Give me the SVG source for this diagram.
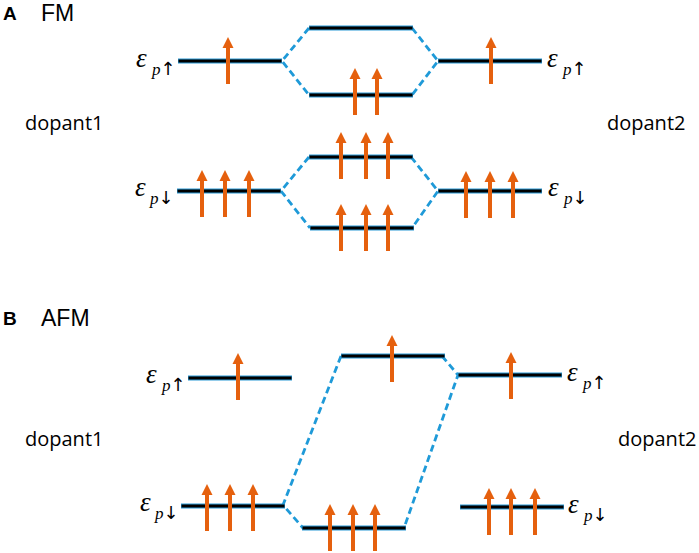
<svg xmlns="http://www.w3.org/2000/svg" xmlns:xlink="http://www.w3.org/1999/xlink" width="699" height="553" viewBox="0 0 699 553">
<style>
.lvb{stroke:#2a9ad6;stroke-width:5;fill:none}
.lvk{stroke:#000;stroke-width:3;fill:none}
.dash{stroke:#1f9ad8;stroke-width:2.8;fill:none;stroke-dasharray:7,4}
.t{font-family:"Open Sans","Liberation Sans",sans-serif;fill:#000}
.h{font-family:"Liberation Sans","Open Sans",sans-serif;fill:#000}
.eps{font-family:"Liberation Serif",serif;font-style:italic;font-size:27px;fill:#000}
.sub{font-family:"Liberation Serif",serif;font-style:italic;font-size:17px;fill:#000}
.ag{font-family:"DejaVu Sans",sans-serif;font-style:normal;font-size:18px}
.ar{fill:#e5600e}
</style>
<defs>
<g id="arr"><polygon class="ar" points="-5.5,11 5.5,11 0,0"/><rect class="ar" x="-2" y="10" width="4" height="37"/></g>
<g id="lv"><line class="lvb" x1="0" y1="0" x2="104" y2="0"/><line class="lvk" x1="0.5" y1="0" x2="103.5" y2="0"/></g>
</defs>
<g id="labels">
<text class="h" x="3" y="20" font-size="19" font-weight="bold">A</text>
<text class="h" x="41" y="21" font-size="23">FM</text>
<text class="h" x="3" y="325" font-size="19" font-weight="bold">B</text>
<text class="h" x="41" y="326" font-size="23">AFM</text>
<text class="t" x="25" y="130" font-size="20">dopant1</text>
<text class="t" x="607" y="130" font-size="20">dopant2</text>
<text class="t" x="25" y="446" font-size="20">dopant1</text>
<text class="t" x="618" y="446" font-size="20">dopant2</text>
</g>
<g id="connectors">
<polyline class="dash" points="309,28 282,61 309,95"/>
<polyline class="dash" points="412,28 438,61 412,95"/>
<polyline class="dash" points="309,157 281,191 310,228"/>
<polyline class="dash" points="411,157 438,191 412,228"/>
<polyline class="dash" points="341,356 283,505 303,528"/>
<polyline class="dash" points="442,356 458,375 404,528"/>
</g>
<g id="A-left-up"><use xlink:href="#lv" x="178" y="61"/><use xlink:href="#arr" x="228" y="37"/>
<text class="eps" x="136" y="67">ε</text><text class="sub" x="152" y="75">p<tspan class="ag">↑</tspan></text></g>
<g id="A-mid-top"><use xlink:href="#lv" x="309" y="28"/></g>
<g id="A-mid-bond"><use xlink:href="#lv" x="309" y="95"/><use xlink:href="#arr" x="355" y="68"/><use xlink:href="#arr" x="377" y="68"/></g>
<g id="A-right-up"><use xlink:href="#lv" x="438" y="61"/><use xlink:href="#arr" x="491" y="37"/>
<text class="eps" x="547" y="67">ε</text><text class="sub" x="563" y="75">p<tspan class="ag">↑</tspan></text></g>
<g id="A-left-dn"><use xlink:href="#lv" x="177" y="191"/><use xlink:href="#arr" x="202" y="170"/><use xlink:href="#arr" x="225" y="170"/><use xlink:href="#arr" x="249" y="170"/>
<text class="eps" x="135" y="196">ε</text><text class="sub" x="150" y="204">p<tspan class="ag">↓</tspan></text></g>
<g id="A-mid-dn-top"><use xlink:href="#lv" x="309" y="157"/><use xlink:href="#arr" x="341" y="132"/><use xlink:href="#arr" x="366" y="132"/><use xlink:href="#arr" x="388" y="132"/></g>
<g id="A-mid-dn-bot"><use xlink:href="#lv" x="310" y="228"/><use xlink:href="#arr" x="341" y="204"/><use xlink:href="#arr" x="366" y="204"/><use xlink:href="#arr" x="388" y="204"/></g>
<g id="A-right-dn"><use xlink:href="#lv" x="438" y="191"/><use xlink:href="#arr" x="466" y="171"/><use xlink:href="#arr" x="490" y="171"/><use xlink:href="#arr" x="513" y="171"/>
<text class="eps" x="548" y="196">ε</text><text class="sub" x="564" y="204">p<tspan class="ag">↓</tspan></text></g>
<g id="B-left-up"><use xlink:href="#lv" x="188" y="378"/><use xlink:href="#arr" x="238" y="353"/>
<text class="eps" x="146" y="383">ε</text><text class="sub" x="162" y="391">p<tspan class="ag">↑</tspan></text></g>
<g id="B-mid-top"><use xlink:href="#lv" x="341" y="356"/><use xlink:href="#arr" x="392" y="335"/></g>
<g id="B-right-up"><use xlink:href="#lv" x="458" y="375"/><use xlink:href="#arr" x="511" y="352"/>
<text class="eps" x="567" y="381">ε</text><text class="sub" x="583" y="389">p<tspan class="ag">↑</tspan></text></g>
<g id="B-left-dn"><use xlink:href="#lv" x="181" y="506"/><use xlink:href="#arr" x="207" y="484"/><use xlink:href="#arr" x="230" y="484"/><use xlink:href="#arr" x="253" y="484"/>
<text class="eps" x="140" y="511">ε</text><text class="sub" x="155" y="519">p<tspan class="ag">↓</tspan></text></g>
<g id="B-mid-bot"><use xlink:href="#lv" x="302" y="528"/><use xlink:href="#arr" x="330" y="504"/><use xlink:href="#arr" x="353" y="504"/><use xlink:href="#arr" x="375" y="504"/></g>
<g id="B-right-dn"><use xlink:href="#lv" x="460" y="507"/><use xlink:href="#arr" x="489" y="488"/><use xlink:href="#arr" x="511" y="488"/><use xlink:href="#arr" x="535" y="488"/>
<text class="eps" x="568" y="513">ε</text><text class="sub" x="584" y="521">p<tspan class="ag">↓</tspan></text></g>
</svg>
